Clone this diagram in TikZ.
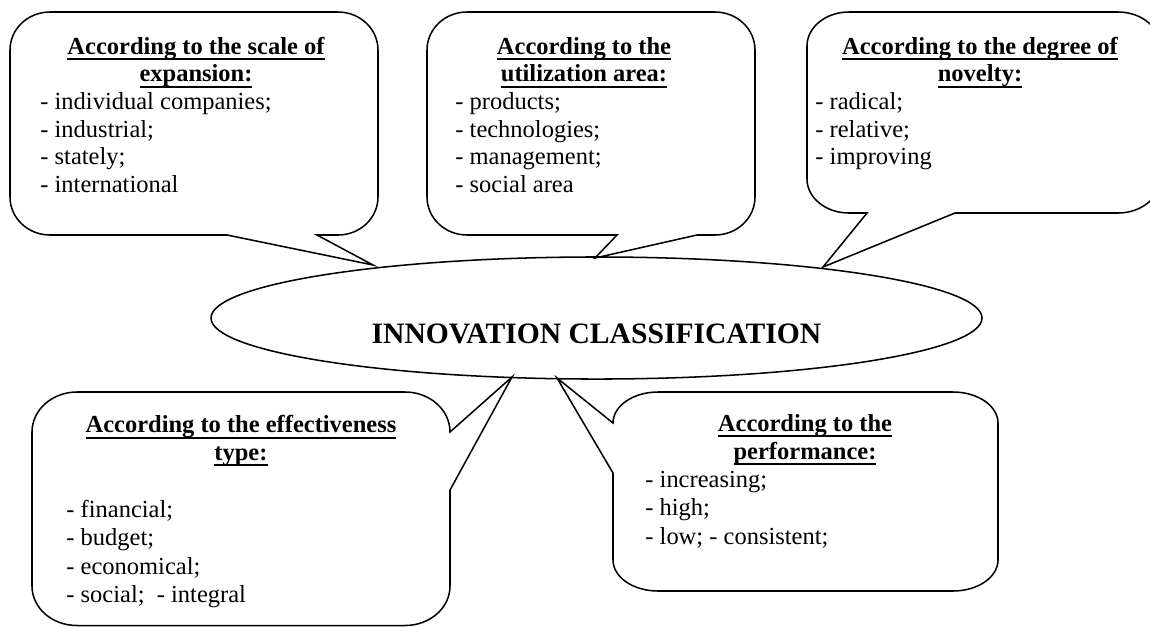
\documentclass[tikz,border=0pt]{standalone}
\usepackage{fontspec}
\setmainfont{Liberation Serif}
\usetikzlibrary{shapes.geometric}
\newsavebox\hdbox
\newcommand\hdul[1]{\sbox\hdbox{#1}\rlap{\usebox\hdbox}\rule[-3.1pt]{\wd\hdbox}{1.0pt}}
\tikzset{
  co/.style={draw, line width=0.75pt, line join=miter},
  hd/.style={anchor=base, inner sep=0pt, font=\fontsize{12}{14}\selectfont\bfseries},
  it/.style={anchor=base west, inner sep=0pt, font=\fontsize{12}{14}\selectfont},
  ttl/.style={anchor=base, inner sep=0pt, font=\fontsize{14.5}{17}\selectfont\bfseries},
}
\begin{document}
\begin{tikzpicture}[x=0.49pt, y=-0.49pt]
\clip (0,0) rectangle (1150,626);
\fill[white] (0,0) rectangle (1150,626);

% central ellipse
\node[draw, ellipse, line width=0.75pt, minimum width=377.8pt, minimum height=59.8pt, inner sep=0pt] (ell) at (596.5,318) {};
\node[ttl] (title) at (596.5,343) {INNOVATION CLASSIFICATION};

% box 1
\path[co] (50,12) -- (338,12) .. controls (360.1,12) and (378,29) .. (378,50)
  -- (378,197) .. controls (378,218) and (360.1,235) .. (338,235)
  -- (317,235) -- (373,265) -- (227,235)
  -- (50,235) .. controls (27.9,235) and (10,218) .. (10,197)
  -- (10,50) .. controls (10,29) and (27.9,12) .. (50,12) -- cycle;
\node[hd] (b1h1) at (196,54) {\hdul{According to the scale of}};
\node[hd] (b1h2) at (196,81.7) {\hdul{expansion:}};
\node[it] (b1i1) at (40,109.4) {- individual companies;};
\node[it] (b1i2) at (40,137.1) {- industrial;};
\node[it] (b1i3) at (40,164.8) {- stately;};
\node[it] (b1i4) at (40,192.5) {- international};

% box 2
\path[co] (467,12) -- (715,12) .. controls (737.1,12) and (755,29) .. (755,50)
  -- (755,197) .. controls (755,218) and (737.1,235) .. (715,235)
  -- (697,235) -- (595,258) -- (617,235)
  -- (467,235) .. controls (444.9,235) and (427,218) .. (427,197)
  -- (427,50) .. controls (427,29) and (444.9,12) .. (467,12) -- cycle;
\node[hd] (b2h1) at (584,54) {\hdul{According to the}};
\node[hd] (b2h2) at (584,81.7) {\hdul{utilization area:}};
\node[it] (b2i1) at (455,109.4) {- products;};
\node[it] (b2i2) at (455,137.1) {- technologies;};
\node[it] (b2i3) at (455,164.8) {- management;};
\node[it] (b2i4) at (455,192.5) {- social area};

% box 3
\path[co] (849,12) -- (1118,12) .. controls (1141.2,12) and (1160,27.2) .. (1160,46)
  -- (1160,179) .. controls (1160,197.8) and (1141.2,213) .. (1118,213)
  -- (955,213) -- (823,267) -- (867,213)
  -- (849,213) .. controls (825.8,213) and (807,197.8) .. (807,179)
  -- (807,46) .. controls (807,27.2) and (825.8,12) .. (849,12) -- cycle;
\node[hd] (b3h1) at (980,54) {\hdul{According to the degree of}};
\node[hd] (b3h2) at (980,81.7) {\hdul{novelty:}};
\node[it] (b3i1) at (815,109.4) {- radical;};
\node[it] (b3i2) at (815,137.1) {- relative;};
\node[it] (b3i3) at (815,164.8) {- improving};

% box 4
\path[co] (77,392) -- (405,392) .. controls (429.8,392) and (450,409.9) .. (450,432)
  -- (512,377) -- (450,490)
  -- (450,586) .. controls (450,608.1) and (429.8,625.5) .. (405,625.5)
  -- (77,625.5) .. controls (52.2,625.5) and (32,608.1) .. (32,586)
  -- (32,432) .. controls (32,409.9) and (52.2,392) .. (77,392) -- cycle;
\node[hd] (b4h1) at (241,432.5) {\hdul{According to the effectiveness}};
\node[hd] (b4h2) at (241,460) {\hdul{type:}};
\node[it] (b4i1) at (66,517) {- financial;};
\node[it] (b4i2) at (66,545.5) {- budget;};
\node[it] (b4i3) at (66,574) {- economical;};
\node[it] (b4i4) at (66,602.5) {- social;~~- integral};

% box 5
\path[co] (658,392) -- (953,392) .. controls (977.8,392) and (998,405.9) .. (998,423)
  -- (998,560) .. controls (998,577.1) and (977.8,591) .. (953,591)
  -- (658,591) .. controls (633.2,591) and (613,577.1) .. (613,560)
  -- (613,473) -- (557,378) -- (613,423)
  .. controls (613,405.9) and (633.2,392) .. (658,392) -- cycle;
\node[hd] (b5h1) at (805,431) {\hdul{According to the}};
\node[hd] (b5h2) at (805,459) {\hdul{performance:}};
\node[it] (b5i1) at (645,487) {- increasing;};
\node[it] (b5i2) at (645,515.5) {- high;};
\node[it] (b5i3) at (645,544) {- low; - consistent;};
\end{tikzpicture}
\end{document}
